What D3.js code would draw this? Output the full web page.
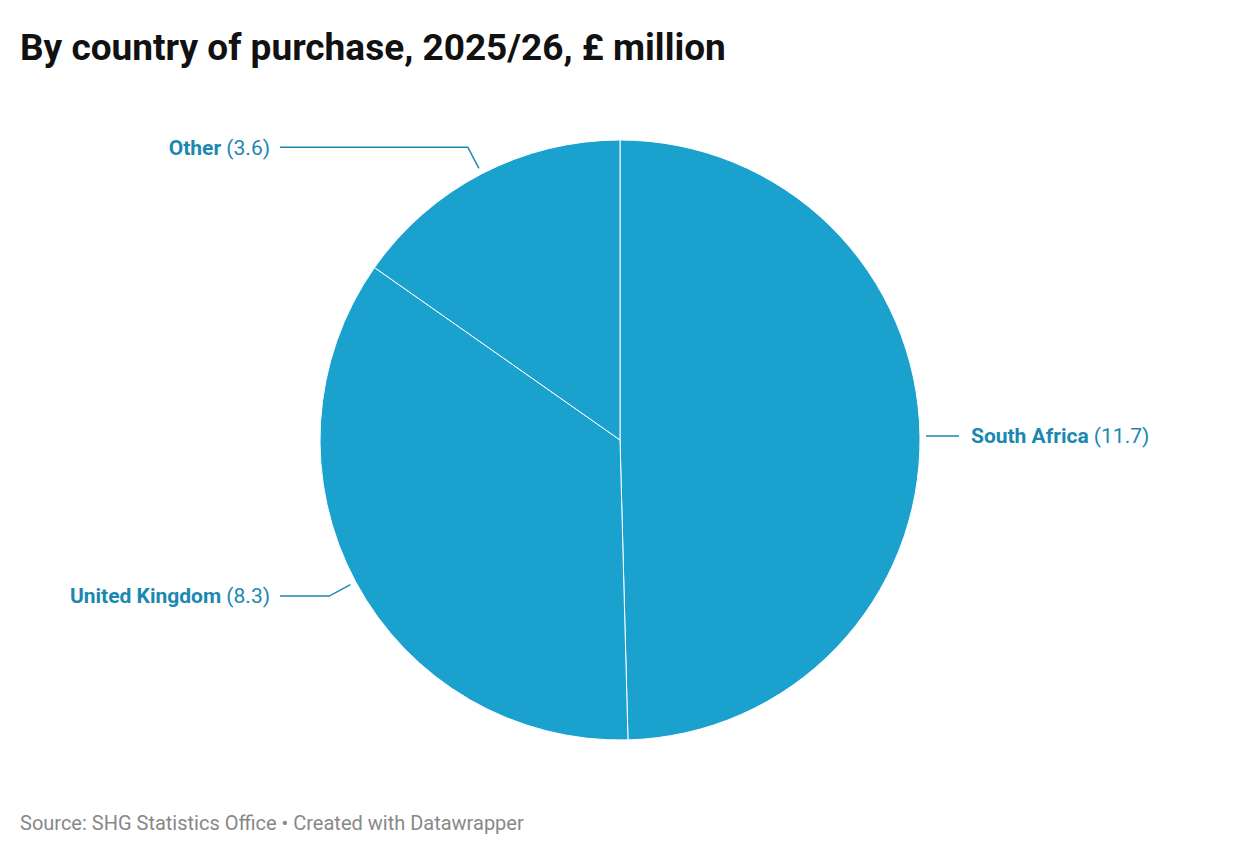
<!DOCTYPE html>
<html><head><meta charset="utf-8">
<script src="https://cdn.jsdelivr.net/npm/d3@7"></script>
<style>body{margin:0;background:#fff}</style>
</head><body>
<svg id="chart" width="1240" height="856"></svg>
<script>
const categories = ["South Africa", "United Kingdom", "Other"]
const values = [11.7, 8.3, 3.6]

const width = 1240, height = 856
const cx = 620, cy = 440, radius = 300
const fill = "#1aa1cd", labelColor = "#1a88b0"

const svg = d3.select("#chart")
svg.append("rect").attr("width", width).attr("height", height).attr("fill", "#fff")

svg.append("text")
  .attr("x", 20).attr("y", 60)
  .attr("font-family", "Roboto, sans-serif").attr("font-size", 37).attr("font-weight", "bold")
  .attr("fill", "#111")
  .text("By country of purchase, 2025/26, £ million")

const data = categories.map((c, i) => ({ name: c, value: values[i] }))
const pie = d3.pie().value(d => d.value).sort(null)
const arcs = pie(data)
const arc = d3.arc().innerRadius(0).outerRadius(radius)

const g = svg.append("g").attr("transform", `translate(${cx},${cy})`)
g.selectAll("path").data(arcs).join("path")
  .attr("d", arc)
  .attr("fill", fill)
  .attr("stroke", "#fff").attr("stroke-width", 1)

// label leader lines
const lbl = svg.append("g").attr("font-family", "Roboto, sans-serif").attr("font-size", 21)
arcs.forEach(a => {
  const mid = (a.startAngle + a.endAngle) / 2
  const p0 = [cx + Math.sin(mid) * (radius + 6), cy - Math.cos(mid) * (radius + 6)]
  const p1 = [cx + Math.sin(mid) * (radius + 30), cy - Math.cos(mid) * (radius + 30)]
  const right = Math.sin(mid) > 0
  let pts, tx, ty
  if (right) {
    pts = [p0, [p0[0] + 33, p0[1]]]
    tx = p0[0] + 45; ty = p0[1]
  } else {
    pts = [p0, p1, [280, p1[1]]]
    tx = 270; ty = p1[1]
  }
  lbl.append("path")
    .attr("d", d3.line()(pts))
    .attr("fill", "none").attr("stroke", labelColor).attr("stroke-width", 1.5)
  const t = lbl.append("text")
    .attr("x", tx).attr("y", ty).attr("dy", "0.35em")
    .attr("text-anchor", right ? "start" : "end")
    .attr("fill", labelColor)
  t.append("tspan").attr("font-weight", "bold").text(a.data.name)
  t.append("tspan").text(` (${a.data.value})`)
})

svg.append("text")
  .attr("x", 20).attr("y", 830)
  .attr("font-family", "Roboto, sans-serif").attr("font-size", 20)
  .attr("fill", "#888")
  .text("Source: SHG Statistics Office • Created with Datawrapper")
</script>
</body></html>
